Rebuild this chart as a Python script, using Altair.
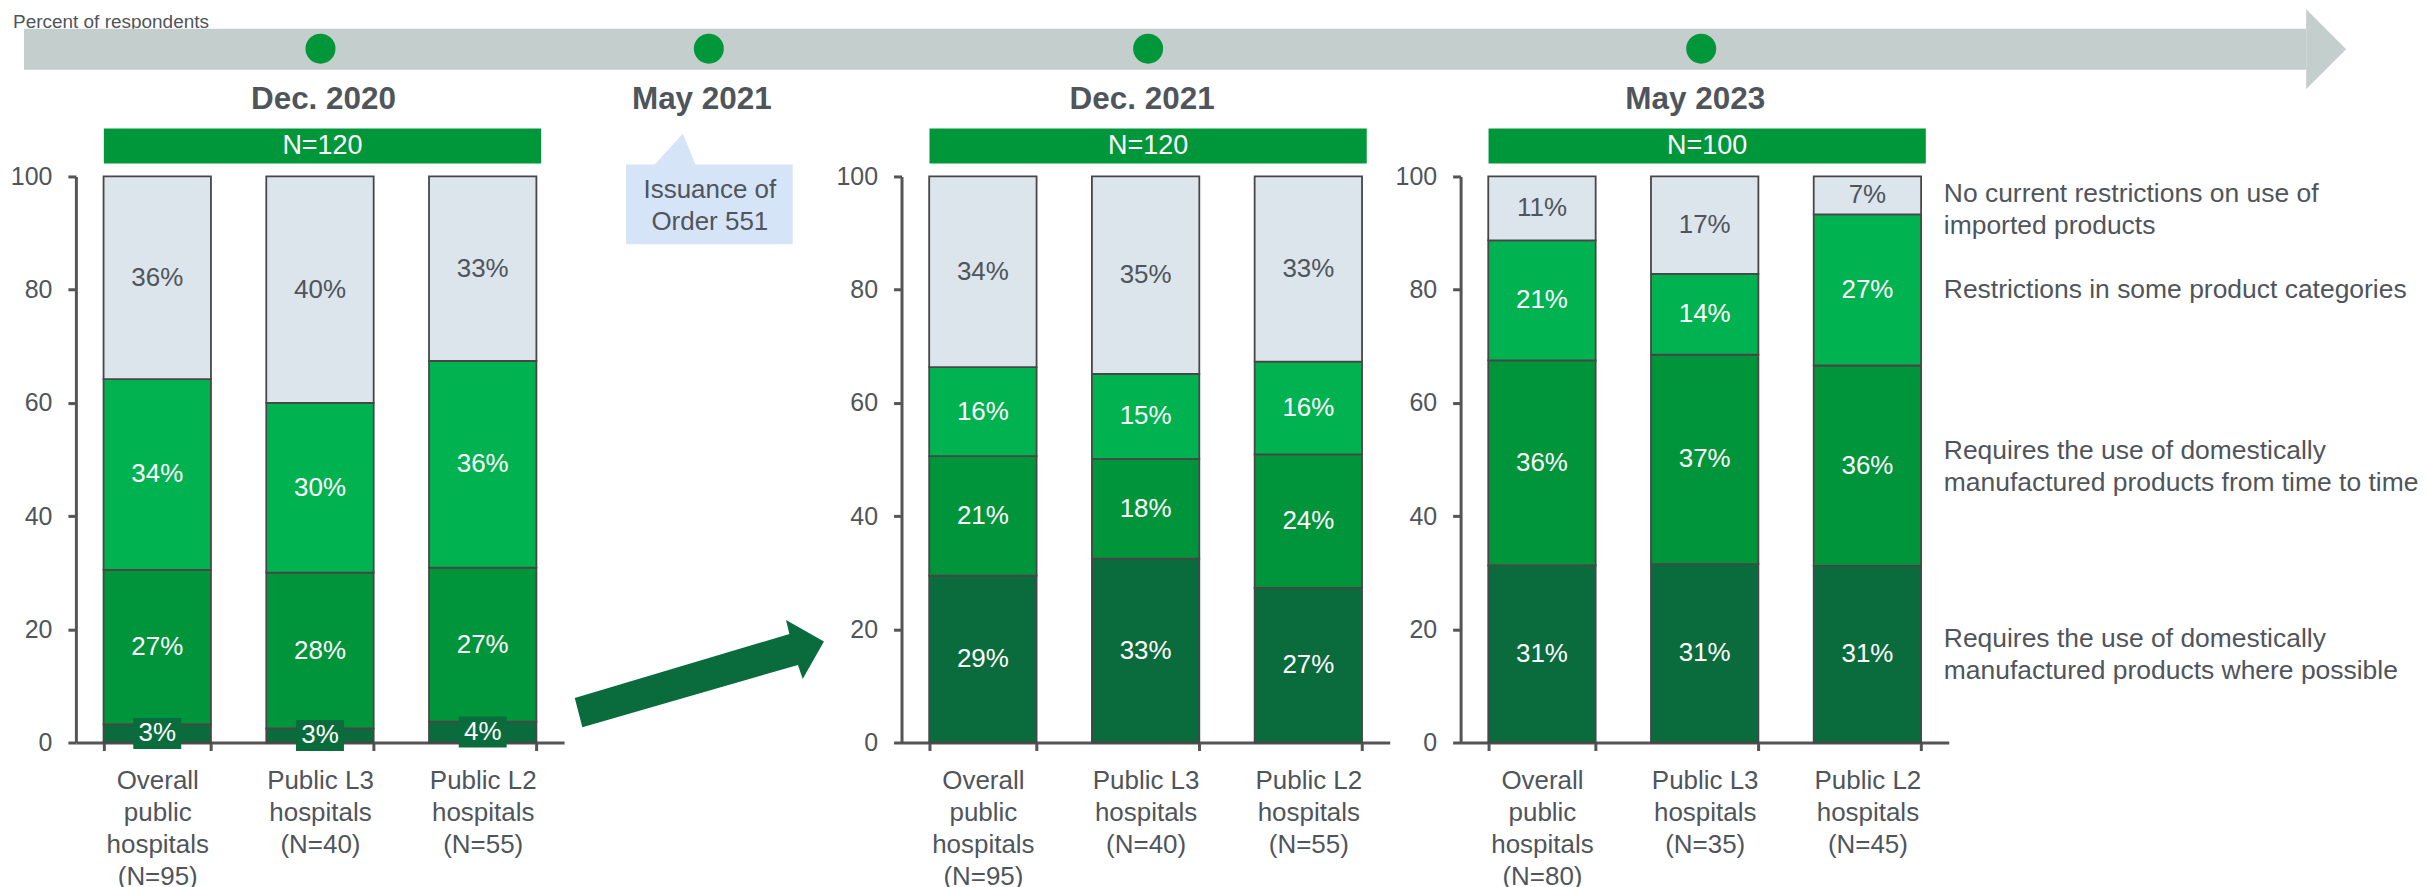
import altair as alt
import pandas as pd

# ---------------- data ----------------
axis_caption = "Percent of respondents"
wave_titles = ["Dec. 2020", "Dec. 2021", "May 2023"]
wave_sizes = ["N=120", "N=120", "N=100"]
event_title = "May 2021"
event_note = "Issuance of\nOrder 551"

group_names = ["Overall\npublic\nhospitals", "Public L3\nhospitals", "Public L2\nhospitals"]
group_ns = [[95, 40, 55], [95, 40, 55], [80, 35, 45]]

# series, bottom -> top
series_names = [
    "Requires the use of domestically\nmanufactured products where possible",
    "Requires the use of domestically\nmanufactured products from time to time",
    "Restrictions in some product categories",
    "No current restrictions on use of\nimported products",
]
series_colors = ["#0A6C3C", "#00953A", "#00B350", "#DCE4EC"]

# printed labels (%) per series (bottom->top), per group
labels_dec2020 = [[3, 3, 4], [27, 28, 27], [34, 30, 36], [36, 40, 33]]
labels_dec2021 = [[29, 33, 27], [21, 18, 24], [16, 15, 16], [34, 35, 33]]
labels_may2023 = [[31, 31, 31], [36, 37, 36], [21, 14, 27], [11, 17, 7]]

# segment heights as drawn in the picture
heights_dec2020 = [[3.2, 2.5, 3.7], [27.3, 27.5, 27.2], [33.7, 30.0, 36.5], [35.8, 40.0, 32.6]]
heights_dec2021 = [[29.5, 32.5, 27.3], [21.1, 17.6, 23.6], [15.7, 15.0, 16.4], [33.7, 34.9, 32.7]]
heights_may2023 = [[31.3, 31.5, 31.2], [36.2, 37.0, 35.4], [21.2, 14.3, 26.7], [11.3, 17.2, 6.7]]

# ---------------- styling ----------------
W, H = 489, 567
FONT = "Liberation Sans"
TXT = "#4F555B"
AXC = "#555555"
GREEN = "#00973A"
DARK = "#0A6C3C"
BAND = "#C4CECC"
CALLOUT = "#D6E4F8"
ML_DY = -15  # correction for two-line texts centred on a point

BOX = "M-1,-0.646L1,-0.646L1,0.646L-1,0.646Z"
HEAD = "M-0.5,-1L0.5,0L-0.5,1Z"
POINTER = "M0.381,-0.738L1,0.786L-1,0.786Z"
BIG_ARROW = ("M-0.9865,0.1929L0.7198,-0.3151L0.6929,-0.4262L0.9944,-0.2563"
             "L0.8254,0.0421L0.7881,-0.0690L-0.9262,0.4262Z")

x_axis = alt.Axis(
    title=None, labelAngle=0, labelExpr="split(datum.label, '\\n')",
    labelFont=FONT, labelFontSize=26, labelColor=TXT, labelLineHeight=32,
    labelPadding=17, labelBaseline="top", labelLimit=400,
    tickBand="extent", tickSize=8, tickWidth=3, tickColor=AXC,
    domainWidth=3, domainColor=AXC, grid=False,
)
y_axis = alt.Axis(
    title=None, values=[0, 20, 40, 60, 80, 100], grid=False,
    labelFont=FONT, labelFontSize=25, labelColor=TXT, labelPadding=16,
    tickSize=8, tickWidth=3, tickColor=AXC, domainWidth=3, domainColor=AXC,
)
y_scale = alt.Scale(domain=[0, 100], nice=False, zero=True)


def row(t):
    return pd.DataFrame({"t": [t]})


def wave_frame(k, labels, heights):
    rows = []
    for s_i, s in enumerate(series_names):
        for g_i, g in enumerate(group_names):
            rows.append({
                "cat": f"{g}\n(N={group_ns[k][g_i]})",
                "g": g_i,
                "series": s,
                "order": s_i,
                "h": heights[s_i][g_i],
                "lab": f"{labels[s_i][g_i]}%",
            })
    return pd.DataFrame(rows)


def wave_panel(k, labels, heights, title_x, dot_x, pre=(), legend=False):
    df = wave_frame(k, labels, heights)
    cats = list(dict.fromkeys(df["cat"]))
    x_enc = alt.X("cat:N", sort=cats,
                  scale=alt.Scale(domain=cats, paddingInner=0.34, paddingOuter=0.17),
                  axis=x_axis)
    base = alt.Chart(df)
    bars = base.mark_bar(stroke="#474747", strokeWidth=1.8).encode(
        x=x_enc,
        y=alt.Y("h:Q", stack="zero", scale=y_scale, axis=y_axis),
        color=alt.Color("series:N", scale=alt.Scale(domain=series_names, range=series_colors),
                        legend=None),
        order=alt.Order("order:Q", sort="ascending"),
    )
    mids = base.transform_window(
        cum="sum(h)", groupby=["cat"], sort=[alt.SortField("order", order="ascending")],
        frame=[None, 0],
    ).transform_calculate(mid="datum.cum - datum.h / 2")
    y_mid = alt.Y("mid:Q", scale=y_scale, axis=y_axis)
    boxes = mids.transform_filter("datum.h < 6").mark_point(
        shape=BOX, size=2304, filled=True, opacity=1, color=DARK, strokeWidth=0
    ).encode(x=x_enc, y=y_mid)
    texts = mids.mark_text(font=FONT, fontSize=26, baseline="middle").encode(
        x=x_enc, y=y_mid, text="lab:N",
        color=alt.condition("datum.order == 3", alt.value(TXT), alt.value("white")),
    )
    banner = alt.Chart(row(wave_sizes[k])).mark_rect(color=GREEN).encode(
        x=alt.value(28), x2=alt.value(466), y=alt.value(-48), y2=alt.value(-13))
    banner_t = alt.Chart(row(wave_sizes[k])).mark_text(
        font=FONT, fontSize=27, color="white", baseline="middle").encode(
        x=alt.value(247), y=alt.value(-30.5), text="t:N")
    title = alt.Chart(row(wave_titles[k])).mark_text(
        font=FONT, fontSize=31.5, fontWeight="bold", color=TXT, baseline="middle").encode(
        x=alt.value(title_x), y=alt.value(-77), text="t:N")
    dot = alt.Chart(row("")).mark_point(
        shape="circle", size=900, filled=True, opacity=1, color=GREEN, strokeWidth=0).encode(
        x=alt.value(dot_x), y=alt.value(-128))
    layers = list(pre) + [dot, title, banner, banner_t, bars, boxes, texts]
    if legend:
        leg = mids.transform_filter("datum.g == 2")
        style = dict(font=FONT, fontSize=26.5, color=TXT, align="left", baseline="middle",
                     lineBreak="\n", lineHeight=32)
        enc = dict(x=alt.value(484), y=y_mid, text="series:N")
        leg_two = leg.transform_filter("datum.order < 2").mark_text(dy=ML_DY, **style).encode(**enc)
        leg_one = leg.transform_filter("datum.order == 2").mark_text(**style).encode(**enc)
        leg_top = leg.transform_filter("datum.order == 3").mark_text(dy=14 + ML_DY, **style).encode(**enc)
        layers += [leg_two, leg_one, leg_top]
    return alt.layer(*layers).properties(width=W, height=H)


# --- decorations living in the first panel (timeline + caption) ---
anchor = alt.Chart(row("")).mark_rect(opacity=0).encode(
    x=alt.value(-68), x2=alt.value(-67), y=alt.value(0), y2=alt.value(1))
caption = alt.Chart(row(axis_caption)).mark_text(
    font=FONT, fontSize=19, color=TXT, align="left", baseline="alphabetic").encode(
    x=alt.value(-63), y=alt.value(-149), text="t:N")
band = alt.Chart(row("")).mark_rect(color=BAND).encode(
    x=alt.value(-52), x2=alt.value(2234), y=alt.value(-148), y2=alt.value(-107))
head = alt.Chart(row("")).mark_point(
    shape=HEAD, size=6400, filled=True, opacity=1, color=BAND, strokeWidth=0).encode(
    x=alt.value(2254), y=alt.value(-127.5))

p1 = wave_panel(0, labels_dec2020, heights_dec2020, 248, 245, pre=[anchor, caption, band, head])
p2 = wave_panel(1, labels_dec2021, heights_dec2021, 241, 247)
p3 = wave_panel(2, labels_may2023, heights_may2023, 235, 241, legend=True)

# --- middle spacer: May 2021 event, callout and arrow ---
ev_title = alt.Chart(row(event_title)).mark_text(
    font=FONT, fontSize=31.5, fontWeight="bold", color=TXT, baseline="middle").encode(
    x=alt.value(67), y=alt.value(-77), text="t:N")
ev_dot = alt.Chart(row("")).mark_point(
    shape="circle", size=900, filled=True, opacity=1, color=GREEN, strokeWidth=0).encode(
    x=alt.value(74), y=alt.value(-128))
ev_box = alt.Chart(row("")).mark_rect(color=CALLOUT).encode(
    x=alt.value(-9), x2=alt.value(158), y=alt.value(-12), y2=alt.value(68))
ev_ptr = alt.Chart(row("")).mark_point(
    shape=POINTER, size=1764, filled=True, opacity=1, color=CALLOUT, strokeWidth=0).encode(
    x=alt.value(40), y=alt.value(-27.5))
ev_txt = alt.Chart(row(event_note)).mark_text(
    font=FONT, fontSize=26, color=TXT, baseline="middle", lineBreak="\n", lineHeight=32,
    dy=ML_DY).encode(x=alt.value(75), y=alt.value(29), text="t:N")
big_arrow = alt.Chart(row("")).mark_point(
    shape=BIG_ARROW, size=63504, filled=True, opacity=1, color=DARK, strokeWidth=0).encode(
    x=alt.value(64), y=alt.value(498))

spacer = alt.layer(ev_dot, ev_title, ev_ptr, ev_box, ev_txt, big_arrow).properties(width=196, height=H)

chart = alt.hconcat(p1, spacer, p2, p3, spacing=71, bounds="flush").properties(
    padding={"left": 0, "top": 0, "right": 0, "bottom": 0}
).configure_view(stroke=None)

chart.save("out.html", embed_options={"renderer": "svg", "actions": False})
